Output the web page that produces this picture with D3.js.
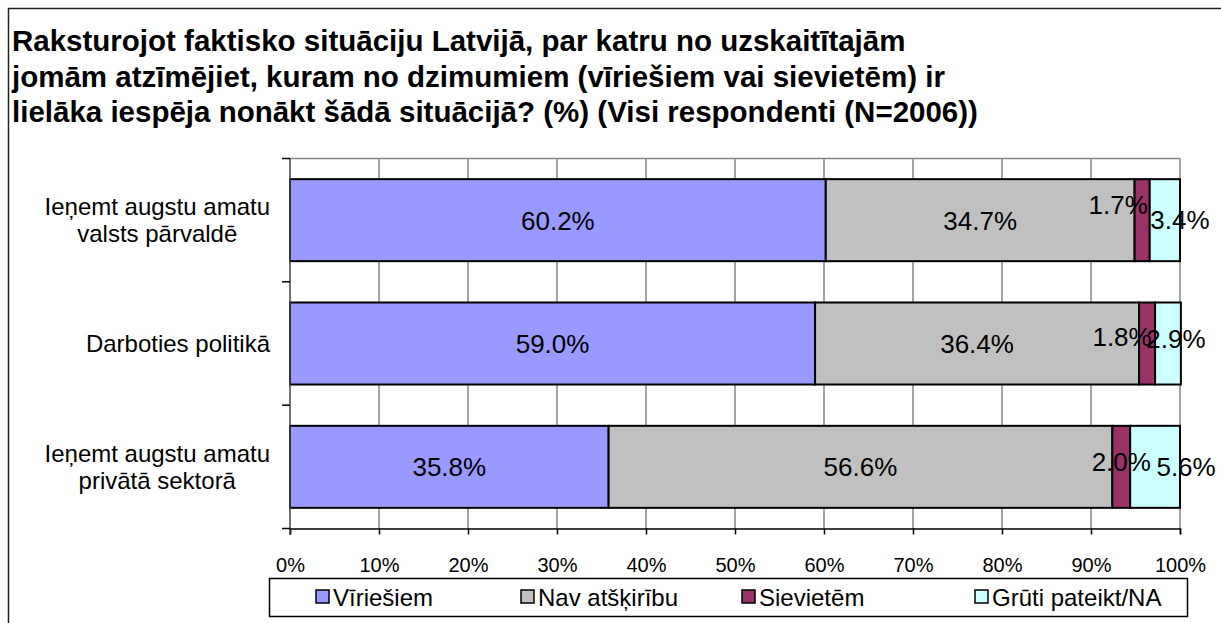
<!DOCTYPE html>
<html>
<head>
<meta charset="utf-8">
<script src="https://cdn.jsdelivr.net/npm/d3@7"></script>
<style>
  body { margin: 0; background: #fff; }
  svg text { font-family: "Liberation Sans", Arial, sans-serif; }
</style>
</head>
<body>
<div id="chart"></div>
<script>
var width = 1221, height = 623

// data
var titleLines = ["Raksturojot faktisko situāciju Latvijā, par katru no uzskaitītajām",
                  "jomām atzīmējiet, kuram no dzimumiem (vīriešiem vai sievietēm) ir",
                  "lielāka iespēja nonākt šādā situācijā? (%) (Visi respondenti (N=2006))"]
var categories = ["Ieņemt augstu amatu valsts pārvaldē", "Darboties politikā", "Ieņemt augstu amatu privātā sektorā"]
var categoryLines = [["Ieņemt augstu amatu", "valsts pārvaldē"], ["Darboties politikā"], ["Ieņemt augstu amatu", "privātā sektorā"]]
var seriesNames = ["Vīriešiem", "Nav atšķirību", "Sievietēm", "Grūti pateikt/NA"]
var viriesiem = [60.2, 59.0, 35.8]
var navAtskiribu = [34.7, 36.4, 56.6]
var sievietem = [1.7, 1.8, 2.0]
var gruti = [3.4, 2.9, 5.6]
var tickValues = [0, 10, 20, 30, 40, 50, 60, 70, 80, 90, 100]

var colors = ["#9999ff", "#c0c0c0", "#993366", "#ccffff"]
// excel moves crowded labels a bit: [category][series] = [dx, dy]
var labelNudge = [
  [[0, 0], [0, 0], [-24, -16], [15, -1]],
  [[0, 0], [0, 0], [-25, -7], [8, -5]],
  [[0, 0], [0, 0], [0, -5], [31, 0]]
]

var svg = d3.select("#chart").append("svg").attr("width", width).attr("height", height)

// outer chart border (runs off the picture on right and bottom)
svg.append("rect").attr("x", 8.5).attr("y", 8.5).attr("width", 1240).attr("height", 640)
   .attr("fill", "#fff").attr("stroke", "#222").attr("stroke-width", 1.5)

svg.append("g").selectAll("text").data(titleLines).enter().append("text")
   .attr("x", 12).attr("y", function(d, i){ return 51 + i * 35.5 })
   .attr("font-size", 29.5).attr("font-weight", "bold").attr("fill", "#000")
   .text(function(d){ return d })

var plotLeft = 290, plotRight = 1180, plotTop = 158.5, plotBottom = 528.5
var x = d3.scaleLinear().domain([0, 100]).range([plotLeft, plotRight])
var y = d3.scaleBand().domain(categories).range([plotTop, plotBottom]).paddingInner(0.335).paddingOuter(0.1675)
var step = y.step()

// gridlines + plot frame
svg.append("g").selectAll("line").data(tickValues.slice(1)).enter().append("line")
   .attr("x1", function(d){ return x(d) }).attr("x2", function(d){ return x(d) })
   .attr("y1", plotTop).attr("y2", plotBottom)
   .attr("stroke", "#868686").attr("stroke-width", 1.5)
svg.append("line").attr("x1", plotLeft).attr("x2", plotRight).attr("y1", plotTop).attr("y2", plotTop)
   .attr("stroke", "#868686").attr("stroke-width", 1.5)

// stacked bars
var table = categories.map(function(c, i){
  return [viriesiem[i], navAtskiribu[i], sievietem[i], gruti[i]]
})
var rows = svg.append("g").selectAll("g").data(table).enter().append("g")
rows.each(function(vals, ci){
  var g = d3.select(this)
  var acc = 0
  var segs = vals.map(function(v, si){
    var s = { v: v, x0: acc, x1: acc + v, si: si, ci: ci }
    acc += v
    return s
  })
  g.selectAll("rect").data(segs).enter().append("rect")
   .attr("x", function(d){ return x(d.x0) })
   .attr("width", function(d){ return x(d.x1) - x(d.x0) })
   .attr("y", y(categories[ci])).attr("height", y.bandwidth())
   .attr("fill", function(d){ return colors[d.si] })
   .attr("stroke", "#000").attr("stroke-width", 2)
  g.selectAll("text").data(segs).enter().append("text")
   .attr("x", function(d){ return (x(d.x0) + x(d.x1)) / 2 + labelNudge[d.ci][d.si][0] })
   .attr("y", function(d){ return y(categories[ci]) + y.bandwidth() / 2 + labelNudge[d.ci][d.si][1] })
   .attr("text-anchor", "middle").attr("dy", "0.36em")
   .attr("font-size", 26).attr("fill", "#000")
   .text(function(d){ return d.v.toFixed(1) + "%" })
})

// value axis
var xAxis = d3.axisBottom(x).tickValues(tickValues).tickSize(6).tickPadding(23)
  .tickFormat(function(d){ return d + "%" })
var gx = svg.append("g").attr("transform", "translate(0," + plotBottom + ")").call(xAxis)
gx.select(".domain").attr("stroke", "#000").attr("stroke-width", 1.5)
gx.selectAll(".tick line").attr("stroke", "#000").attr("stroke-width", 1.5)
gx.selectAll(".tick text").attr("font-size", 20).attr("fill", "#000")
   .attr("font-family", "'Liberation Sans', Arial, sans-serif")

// category axis
svg.append("line").attr("x1", plotLeft).attr("x2", plotLeft).attr("y1", plotTop).attr("y2", plotBottom + 6)
   .attr("stroke", "#444").attr("stroke-width", 1.5)
var bounds = d3.range(categories.length + 1).map(function(i){ return plotTop + i * step })
svg.append("g").selectAll("line").data(bounds).enter().append("line")
   .attr("x1", plotLeft - 8).attr("x2", plotLeft).attr("y1", function(d){ return d }).attr("y2", function(d){ return d })
   .attr("stroke", "#000").attr("stroke-width", 1.5)

var catG = svg.append("g").selectAll("g").data(categoryLines).enter().append("g")
catG.each(function(lines, ci){
  var g = d3.select(this)
  var cy = y(categories[ci]) + y.bandwidth() / 2
  var t = g.selectAll("text").data(lines).enter().append("text")
    .attr("font-size", 24).attr("fill", "#000").attr("text-anchor", "middle")
    .attr("dy", "0.36em")
    .attr("y", function(d, i){ return cy + (i - (lines.length - 1) / 2) * 27 })
    .text(function(d){ return d })
  var maxW = 0
  t.each(function(){ maxW = Math.max(maxW, this.getComputedTextLength()) })
  t.attr("x", 270 - maxW / 2)
})

// legend
var legend = svg.append("g")
legend.append("rect").attr("x", 269.5).attr("y", 578.5).attr("width", 918).attr("height", 38)
  .attr("fill", "#fff").attr("stroke", "#000").attr("stroke-width", 1.5)
var li = legend.selectAll("g.item").data(seriesNames).enter().append("g").attr("class", "item")
  .attr("transform", function(d, i){ return "translate(" + [316, 521, 742, 975][i] + ",597)" })
li.append("rect").attr("x", 0).attr("y", -7).attr("width", 13).attr("height", 13)
  .attr("fill", function(d, i){ return colors[i] }).attr("stroke", "#000").attr("stroke-width", 1.5)
li.append("text").attr("x", 17).attr("dy", "0.36em").attr("font-size", 24).attr("fill", "#000")
  .text(function(d){ return d })
</script>
</body>
</html>
